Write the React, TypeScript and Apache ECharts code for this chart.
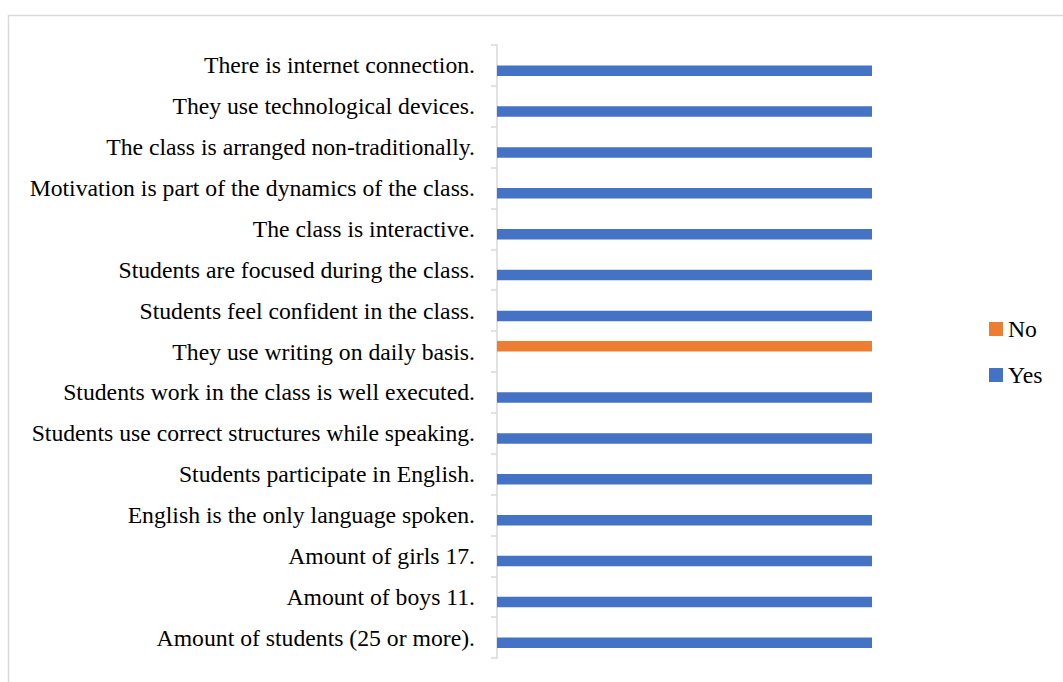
import React, { useEffect, useRef } from "react";
import * as echarts from "echarts";

const categories = [
  "There is internet connection.",
  "They use technological devices.",
  "The class is arranged non-traditionally.",
  "Motivation is part of the dynamics of the class.",
  "The class is interactive.",
  "Students are focused during the class.",
  "Students feel confident in the class.",
  "They use writing on daily basis.",
  "Students work in the class is well executed.",
  "Students use correct structures while speaking.",
  "Students participate in English.",
  "English is the only language spoken.",
  "Amount of girls 17.",
  "Amount of boys 11.",
  "Amount of students (25 or more).",
];

const noValues = [0, 0, 0, 0, 0, 0, 0, 1, 0, 0, 0, 0, 0, 0, 0];
const yesValues = [1, 1, 1, 1, 1, 1, 1, 0, 1, 1, 1, 1, 1, 1, 1];

const FONT = "'Liberation Serif', 'Times New Roman', serif";

export default function App() {
  const ref = useRef<HTMLDivElement>(null);
  useEffect(() => {
    if (!ref.current) return;
    const chart = echarts.init(ref.current, undefined, { renderer: "svg" });
    chart.setOption({
      animation: false,
      backgroundColor: "#fff",
      graphic: [
        {
          type: "rect",
          shape: { x: 8.5, y: 15.5, width: 1100, height: 700 },
          style: { fill: "none", stroke: "#d9d9d9", lineWidth: 1.5 },
          silent: true,
          z: -1,
        },
      ],
      grid: { left: 497, right: 191, top: 45, bottom: 24, containLabel: false },
      legend: {
        data: ["No", "Yes"],
        orient: "vertical",
        left: 989,
        top: 317,
        padding: 0,
        icon: "rect",
        itemWidth: 14,
        itemHeight: 14,
        itemGap: 22,
        textStyle: { fontFamily: FONT, fontSize: 23.7, color: "#000" },
      },
      xAxis: {
        type: "value",
        min: 0,
        max: 1,
        show: false,
      },
      yAxis: {
        type: "category",
        data: categories,
        inverse: true,
        axisLine: { show: true, lineStyle: { color: "#d9d9d9", width: 1.5 } },
        axisTick: { show: true, length: 6, lineStyle: { color: "#d9d9d9", width: 1.5 } },
        axisLabel: {
          margin: 22,
          fontFamily: FONT,
          fontSize: 23.7,
          color: "#000",
          interval: 0,
        },
        splitLine: { show: false },
      },
      series: [
        {
          name: "No",
          type: "bar",
          data: noValues,
          barWidth: 10.5,
          barGap: "0%",
          itemStyle: { color: "#ED7D31" },
        },
        {
          name: "Yes",
          type: "bar",
          data: yesValues,
          barWidth: 10.5,
          barGap: "0%",
          itemStyle: { color: "#4472C4" },
        },
      ],
    });
    return () => chart.dispose();
  }, []);
  return (
    <div
      ref={ref}
      style={{ position: "absolute", left: 0, top: 0, width: 1063, height: 682 }}
    />
  );
}
